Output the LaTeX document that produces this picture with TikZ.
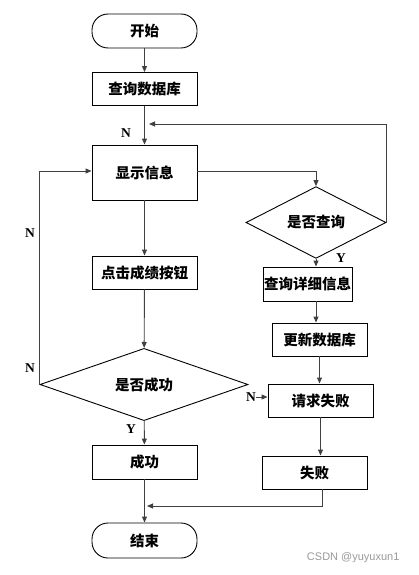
\documentclass[tikz,border=0pt]{standalone}
\usepackage{fontspec}
\setmainfont{Liberation Serif}
\newfontfamily\cjk{Noto Sans CJK SC}
\newfontfamily\wmfont{Liberation Sans}
\usetikzlibrary{arrows.meta,shapes.geometric}
\tikzset{
  box/.style={draw=black, line width=0.9pt, rectangle, inner sep=0pt, font=\cjk\bfseries\fontsize{14.5}{16}\selectfont},
  term/.style={box, rounded corners=16pt},
  dec/.style={draw=black, line width=0.9pt, diamond, inner sep=0pt, font=\cjk\bfseries\fontsize{14.5}{16}\selectfont},
  arr/.style={draw=black!75, line width=0.9pt, -{Triangle[length=6pt,width=5pt]}},
  ln/.style={draw=black!75, line width=0.9pt},
  lab/.style={font=\bfseries\fontsize{13.5}{15}\selectfont, inner sep=0pt}
}
\begin{document}
\begin{tikzpicture}[x=1pt,y=-1pt]
\useasboundingbox (0,0) rectangle (418,575);
\node[term, minimum width=105pt, minimum height=34pt] (start) at (144.5,31) {开始};
\node[box, minimum width=105pt, minimum height=33pt] (q1) at (144.5,89) {查询数据库};
\node[box, minimum width=105pt, minimum height=55pt] (show) at (144.5,172.5) {显示信息};
\node[box, minimum width=105pt, minimum height=33pt] (click) at (144.5,272.5) {点击成绩按钮};
\node[dec, minimum width=208pt, minimum height=55pt] (dsucc) at (144,384.5) {是否成功};
\node[box, minimum width=105pt, minimum height=34pt] (succ) at (144.5,462) {成功};
\node[term, minimum width=105pt, minimum height=35pt] (end) at (144.5,540.5) {结束};
\node[dec, minimum width=140pt, minimum height=55pt] (dq) at (316,222.5) {是否查询};
\node[box, minimum width=89pt, minimum height=34pt] (detail) at (307.5,284) {查询详细信息};
\node[box, minimum width=95pt, minimum height=33pt] (update) at (319.5,339.5) {更新数据库};
\node[box, minimum width=105pt, minimum height=33pt] (req) at (320.5,400.5) {请求失败};
\node[box, minimum width=105pt, minimum height=33pt] (fail) at (314.5,472.5) {失败};
\coordinate (j1) at (147,506);
\coordinate (j2) at (149,124);
\node[lab] (n1) at (126,133) {N};
\node[lab] (n2) at (30,233) {N};
\node[lab] (n3) at (30,368) {N};
\node[lab] (n4) at (251,397) {N};
\node[lab] (y1) at (341,258) {Y};
\node[lab] (y2) at (131,429) {Y};
\draw[arr] (start) -- (q1);
\draw[arr] (q1) -- (show);
\draw[arr] (show) -- (click);
\draw[arr] (click) -- (dsucc);
\draw[arr] (dsucc) -- (succ);
\draw[arr] (succ) -- (end);
\draw[arr] ([yshift=1.5pt]show.east) -| (dq.north);
\draw[arr] (dq.south) -- (dq.south |- detail.north);
\draw[arr] (dq.south |- detail.south) -- (dq.south |- update.north);
\draw[arr] (update.south) -- (update.south |- req.north);
\draw[arr] (req.south) -- (req.south |- fail.north);
\draw[arr] ([xshift=7.5pt]fail.south) |- (j1);
\draw[arr] (dq.east) |- (j2);
\draw[arr] (dsucc.west) |- ([yshift=1.5pt]show.west);
\draw[arr] (n4.east) -- (n4.east -| req.west);
\node[font=\wmfont\fontsize{11}{13}\selectfont, text=black!40, anchor=east] (wm) at (403,558) {CSDN @yuyuxun1};
\end{tikzpicture}
\end{document}
